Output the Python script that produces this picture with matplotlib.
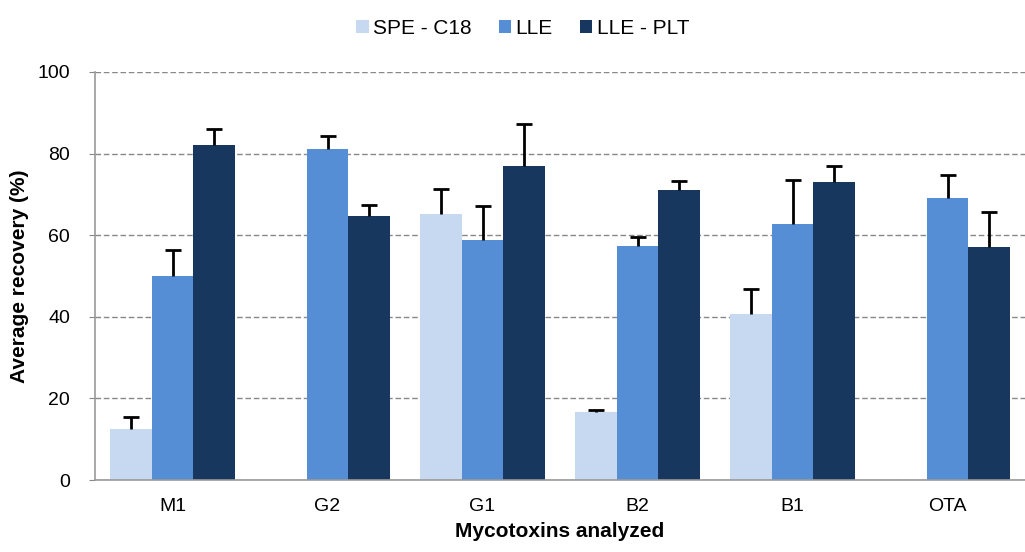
import numpy as np
import matplotlib.pyplot as plt

plt.rcParams['font.family'] = ['Liberation Sans', 'DejaVu Sans']

toxins = ['M1', 'G2', 'G1', 'B2', 'B1', 'OTA']
series = ['SPE - C18', 'LLE', 'LLE - PLT']
spe = [12.5, 0, 65.2, 16.6, 40.8, 0]
spe_err = [3.0, 0, 6.0, 0.5, 6.0, 0]
lle = [50.0, 81.1, 58.9, 57.4, 62.8, 69.2]
lle_err = [6.3, 3.2, 8.3, 2.2, 10.7, 5.6]
plt_ = [82.1, 64.7, 77.0, 71.0, 73.0, 57.1]
plt_err = [3.9, 2.6, 10.3, 2.2, 4.0, 8.6]
colors = ['#c6d9f1', '#558ed5', '#17375e']

fig = plt.figure(figsize=(10.25, 5.52), dpi=100)
ax = fig.add_axes([0.0927, 0.1304, 0.9073, 0.7392])

x = np.arange(len(toxins))
w = 0.27
vals = [spe, lle, plt_]
errs = [spe_err, lle_err, plt_err]
for i in range(3):
    v = np.array(vals[i])
    e = np.array(errs[i])
    pos = x + (i - 1) * w
    ax.bar(pos, v, w, color=colors[i], label=series[i], zorder=2)
    m = v > 0
    eb = ax.errorbar(pos[m], v[m], yerr=[np.zeros(m.sum()), e[m]], fmt='none',
                     ecolor='black', elinewidth=2, capsize=6, capthick=2, zorder=3)
    # only keep the upper cap
    eb[1][0].set_visible(False)

ax.set_xlim(-0.5, len(toxins) - 0.5)
ax.set_ylim(0, 100)
ax.set_yticks([0, 20, 40, 60, 80, 100])
ax.set_xticks(x)
ax.set_xticklabels(toxins)
ax.tick_params(axis='x', length=0, pad=13, labelsize=14)
ax.tick_params(axis='y', length=4, color='#888888', labelsize=14, pad=14)
ax.yaxis.grid(True, linestyle=(0, (4, 2)), color='#888888', linewidth=1, zorder=0)
ax.set_axisbelow(True)
for s in ['top', 'right']:
    ax.spines[s].set_visible(False)
for s in ['left', 'bottom']:
    ax.spines[s].set_color('#999999')
    ax.spines[s].set_linewidth(1.2)

ax.set_ylabel('Average recovery (%)', fontsize=15, fontweight='bold', labelpad=6)
ax.set_xlabel('Mycotoxins analyzed', fontsize=15, fontweight='bold', labelpad=5)

fig.legend(*ax.get_legend_handles_labels(), loc='upper center',
           bbox_to_anchor=(0.51, 1.0), ncol=3, frameon=False,
           fontsize=15, handlelength=0.6, handleheight=0.6, handletextpad=0.2,
           columnspacing=1.3)

fig.savefig('out.png', dpi=100)
